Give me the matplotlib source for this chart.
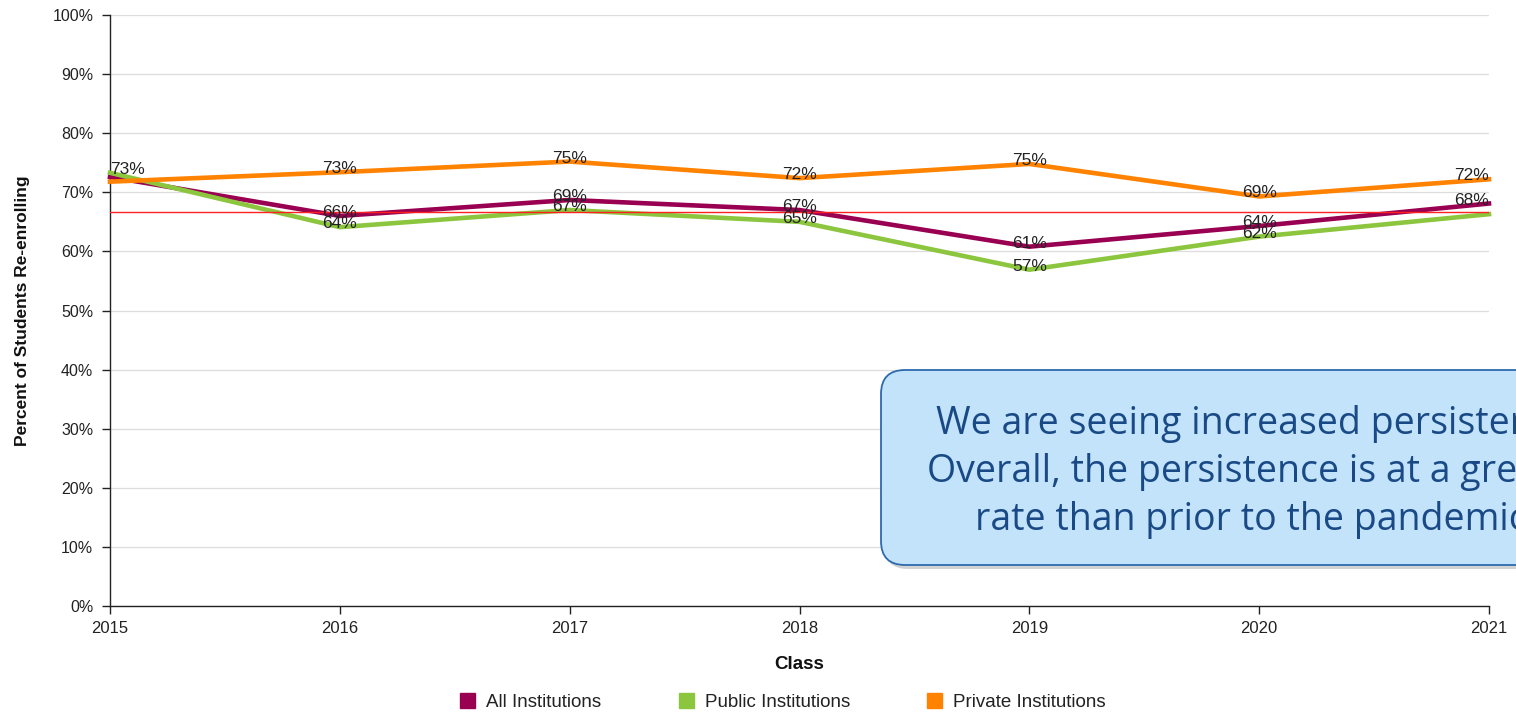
import matplotlib
matplotlib.use("Agg")
import matplotlib.pyplot as plt
from matplotlib.patches import FancyBboxPatch, Patch
from matplotlib.transforms import IdentityTransform

years = [2015, 2016, 2017, 2018, 2019, 2020, 2021]
all_inst = [72.6, 66.0, 68.7, 67.0, 60.8, 64.3, 68.1]
public_inst = [73.3, 64.1, 67.0, 65.0, 56.9, 62.5, 66.3]
private_inst = [71.8, 73.4, 75.2, 72.4, 74.8, 69.3, 72.2]
# which points carry a value label in the reference
all_labeled = [False, True, True, True, True, True, True]
public_labeled = [True, True, True, True, True, True, False]
private_labeled = [False, True, True, True, True, True, True]
ref_line = 66.7
series_names = ["All Institutions", "Public Institutions", "Private Institutions"]
colors = ["#990052", "#8CC63E", "#FF8200"]
yticks = list(range(0, 101, 10))
note_lines = ["We are seeing increased persistence.",
              "Overall, the persistence is at a greater",
              "rate than prior to the pandemic."]

plt.rcParams['font.family'] = ['Liberation Sans', 'DejaVu Sans']
W, H = 1516, 713
fig = plt.figure(figsize=(W/100, H/100), dpi=100)
ax = fig.add_axes([110/W, 1-606/H, (1489-110)/W, (606-15)/H])

series = [all_inst, public_inst, private_inst]
masks = [all_labeled, public_labeled, private_labeled]
for vals, c in zip(series, colors):
    ax.plot(years, vals, color=c, lw=3.3, solid_joinstyle='round', zorder=3, clip_on=False)

ax.axhline(ref_line, color="#FF2020", lw=1.0, zorder=4)

for vals, mask in zip(series, masks):
    for i, (x, v, show) in enumerate(zip(years, vals, mask)):
        if not show:
            continue
        ha = 'center'
        if i == 0:
            ha = 'left'
        elif i == len(years) - 1:
            ha = 'right'
        ax.annotate(f"{round(v):.0f}%", (x, v), xytext=(0, 2.5), textcoords='offset points',
                    ha=ha, va='center', fontsize=12.5, color="#222222", zorder=5)

ax.set_xlim(2015, 2021)
ax.set_ylim(0, 100)
ax.set_xticks(years)
ax.set_xticklabels([str(y) for y in years], fontsize=12)
ax.set_yticks(yticks)
ax.set_yticklabels([f"{t}%" for t in yticks], fontsize=11.5)
ax.grid(axis='y', color="#DDDDDD", lw=0.9, zorder=0)
ax.set_axisbelow(True)
for s in ['top', 'right']:
    ax.spines[s].set_visible(False)
for s in ['left', 'bottom']:
    ax.spines[s].set_color('#222222')
    ax.spines[s].set_linewidth(1.0)
ax.tick_params(axis='both', direction='out', length=6, width=1, color='#222222', labelcolor='#222222')
ax.tick_params(axis='y', pad=6)
ax.tick_params(axis='x', pad=5)
ax.set_xlabel("Class", fontsize=13.5, fontweight='bold', labelpad=14, color='#111111')
ax.set_ylabel("Percent of Students Re-enrolling", fontsize=12.5, fontweight='bold',
              labelpad=16, color='#111111')

handles = [Patch(facecolor=c, edgecolor=c) for c in colors]
fig.legend(handles, series_names, loc='center', bbox_to_anchor=(783/W, 1-702/H),
           ncol=3, frameon=False, fontsize=13.5, handlelength=0.8, handleheight=0.8,
           columnspacing=4.1, handletextpad=0.6, labelcolor='#222222')

# annotation box (pixel coordinates, origin bottom-left)
bx0, by_top, bx1, by_bot = 881, 370, 1640, 565
ident = IdentityTransform()
shadow = FancyBboxPatch((bx0 + 3, H - by_bot - 4), bx1 - bx0, by_bot - by_top,
                        boxstyle="round,pad=0,rounding_size=24",
                        transform=ident, facecolor="#7F7F7F", alpha=0.35,
                        edgecolor='none', zorder=9)
fig.patches.append(shadow)
box = FancyBboxPatch((bx0, H - by_bot), bx1 - bx0, by_bot - by_top,
                     boxstyle="round,pad=0,rounding_size=24",
                     transform=ident, facecolor="#C3E3FB",
                     edgecolor="#2D6AAE", lw=1.3, zorder=10)
fig.patches.append(box)
starts = [936, 927, 975]
baselines = [434, 482, 530]
for line, sx, yy in zip(note_lines, starts, baselines):
    fig.text(sx/W, 1-yy/H, line, ha='left', va='baseline', fontsize=27,
             color="#1A4A86", family=['Open Sans', 'DejaVu Sans'], zorder=11)

fig.savefig("out.png", dpi=100)
